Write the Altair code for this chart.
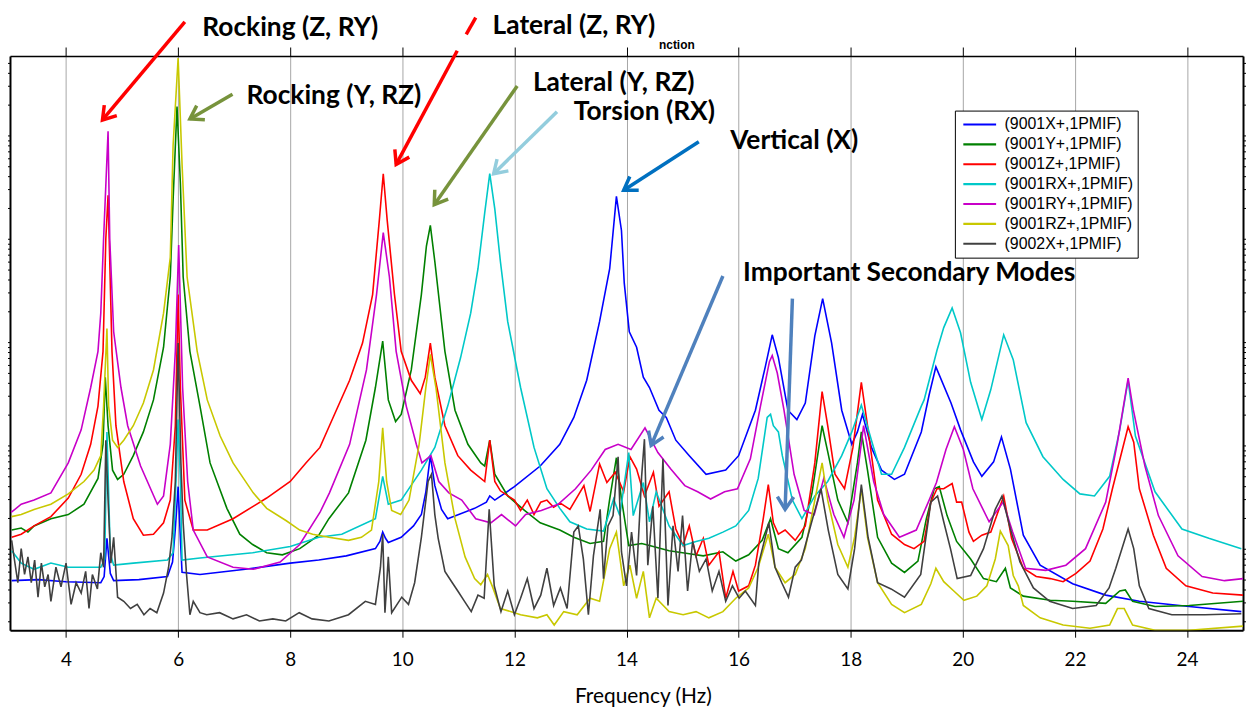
import altair as alt
import pandas as pd

# ---------------- data ----------------
SERIES = ["(9001X+,1PMIF)", "(9001Y+,1PMIF)", "(9001Z+,1PMIF)", "(9001RX+,1PMIF)",
          "(9001RY+,1PMIF)", "(9001RZ+,1PMIF)", "(9002X+,1PMIF)"]
COLORS = ["#0000FF", "#008000", "#FF0000", "#00C8C8", "#C800C8", "#C8C800", "#404040"]

X_TICKS = [4, 6, 8, 10, 12, 14, 16, 18, 20, 22, 24]
LOG_MIN, LOG_MAX = -0.79, 4.77          # vertical extent, log10 units

# level values are log10 of the magnitude (arbitrary units)
FREQ_X = [3.03, 3.5, 4.0, 4.62, 4.68, 4.73, 4.79, 4.85, 5.3, 5.81, 5.9, 5.95, 6.0, 6.04, 6.07, 6.39, 7.2, 8.0,
          8.51, 9.0, 9.52, 9.6, 9.65, 9.7, 9.75, 9.98, 10.2, 10.34, 10.42, 10.5, 10.58, 10.7, 10.81, 11.29, 11.5,
          11.56, 11.65, 12.0, 12.46, 12.81, 13.06, 13.29, 13.52, 13.7, 13.82, 13.91, 13.96, 14.05, 14.18, 14.3,
          14.41, 14.58, 14.71, 14.88, 15.12, 15.42, 15.77, 16.0, 16.3, 16.48, 16.6, 16.71, 16.88, 17.04, 17.19,
          17.36, 17.5, 17.66, 17.84, 18.02, 18.12, 18.21, 18.37, 18.55, 18.78, 18.96, 19.26, 19.4, 19.52, 19.79,
          19.96, 20.19, 20.34, 20.55, 20.69, 20.85, 21.08, 21.38, 21.96, 22.55, 23.15, 24.04, 24.97]
LEVEL_X = [-0.31, -0.3, -0.32, -0.33, -0.27, 0.1, -0.24, -0.31, -0.3, -0.27, -0.13, 0.19, 0.6, 0.1, -0.23, -0.25,
           -0.2, -0.14, -0.11, -0.07, 0.0, 0.07, 0.16, 0.1, 0.06, 0.11, 0.22, 0.33, 0.55, 0.9, 0.61, 0.38, 0.29,
           0.39, 0.45, 0.51, 0.47, 0.6, 0.8, 1.01, 1.27, 1.63, 2.2, 2.71, 3.41, 3.08, 2.57, 2.1, 1.95, 1.66, 1.56,
           1.34, 1.27, 1.05, 0.9, 0.72, 0.76, 0.9, 1.34, 1.77, 2.07, 1.85, 1.34, 1.25, 1.41, 2.06, 2.42, 1.99, 1.34,
           1.01, 1.13, 1.3, 0.98, 0.76, 0.67, 0.72, 1.13, 1.49, 1.76, 1.41, 1.15, 0.84, 0.7, 0.84, 1.08, 0.77, 0.13,
           -0.16, -0.34, -0.45, -0.51, -0.56, -0.61]

FREQ_Y = [3.03, 3.2, 3.32, 3.43, 3.73, 4.04, 4.32, 4.57, 4.66, 4.7, 4.75, 4.83, 4.92, 5.03, 5.2, 5.38, 5.56, 5.74,
          5.86, 5.91, 5.98, 6.04, 6.09, 6.21, 6.39, 6.57, 6.87, 7.1, 7.33, 7.58, 7.86, 8.17, 8.51, 8.69, 9.04, 9.35,
          9.52, 9.65, 9.75, 9.88, 9.98, 10.16, 10.34, 10.43, 10.5, 10.58, 10.76, 10.94, 11.17, 11.4, 11.47, 11.56,
          11.65, 11.88, 12.18, 12.46, 12.81, 13.06, 13.35, 13.59, 13.7, 13.82, 13.91, 14.04, 14.27, 14.41, 14.76,
          15.12, 15.37, 15.72, 15.95, 16.18, 16.42, 16.57, 16.71, 16.88, 17.13, 17.31, 17.49, 17.59, 17.77, 17.95,
          18.12, 18.19, 18.3, 18.48, 18.73, 18.96, 19.2, 19.35, 19.49, 19.58, 19.72, 19.89, 20.14, 20.37, 20.6,
          20.76, 20.85, 21.08, 21.56, 21.96, 22.55, 22.8, 22.9, 23.03, 23.43, 24.04, 25.0]
LEVEL_Y = [0.18, 0.2, 0.16, 0.22, 0.29, 0.33, 0.43, 0.68, 1.01, 1.66, 1.19, 0.76, 0.67, 0.72, 0.9, 1.13, 1.44,
           1.95, 2.63, 3.37, 4.28, 3.54, 2.63, 1.91, 1.38, 0.83, 0.39, 0.14, 0.04, -0.04, -0.06, 0.0, 0.13, 0.29,
           0.54, 1.05, 1.56, 2.01, 1.44, 1.23, 1.3, 1.73, 2.46, 2.93, 3.13, 2.78, 1.91, 1.34, 1.01, 0.83, 0.8, 1.05,
           0.72, 0.51, 0.37, 0.25, 0.18, 0.11, 0.05, 0.07, 0.48, 0.88, 0.48, 0.03, 0.05, 0.03, -0.02, -0.05, -0.07,
           -0.03, -0.12, -0.06, 0.08, 0.29, 0.0, -0.04, 0.11, 0.54, 1.19, 0.94, 0.47, 0.25, 0.83, 1.13, 0.76, 0.11,
           -0.14, -0.23, -0.12, 0.29, 0.58, 0.6, 0.32, 0.07, -0.1, -0.29, -0.32, -0.19, -0.38, -0.46, -0.5, -0.51,
           -0.53, -0.41, -0.4, -0.51, -0.56, -0.55, -0.51]

FREQ_Z = [3.03, 3.2, 3.43, 3.73, 4.04, 4.27, 4.44, 4.57, 4.66, 4.71, 4.75, 4.77, 4.82, 4.89, 5.03, 5.2, 5.38, 5.56,
          5.74, 5.86, 5.95, 6.0, 6.04, 6.12, 6.27, 6.52, 6.98, 7.58, 8.0, 8.28, 8.53, 8.7, 9.06, 9.29, 9.47, 9.59,
          9.66, 9.73, 9.86, 9.98, 10.16, 10.32, 10.41, 10.5, 10.58, 10.76, 10.99, 11.22, 11.47, 11.56, 11.65, 11.75,
          12.0, 12.11, 12.23, 12.35, 12.47, 12.58, 12.7, 12.82, 12.99, 13.24, 13.35, 13.52, 13.65, 13.8, 13.95,
          14.06, 14.18, 14.32, 14.48, 14.58, 14.76, 14.88, 15.01, 15.12, 15.24, 15.37, 15.47, 15.65, 15.77, 15.9,
          16.0, 16.18, 16.3, 16.44, 16.53, 16.62, 16.71, 16.83, 17.01, 17.19, 17.36, 17.49, 17.59, 17.72, 17.89,
          18.04, 18.19, 18.3, 18.48, 18.73, 18.96, 19.13, 19.31, 19.43, 19.54, 19.66, 19.81, 19.89, 19.98, 20.11,
          20.19, 20.34, 20.5, 20.73, 20.87, 21.08, 21.31, 21.56, 21.79, 22.02, 22.27, 22.5, 22.67, 22.95, 23.05,
          23.15, 23.4, 23.63, 23.98, 24.46, 25.0]
LEVEL_Z = [0.11, 0.14, 0.22, 0.31, 0.49, 0.72, 1.01, 1.38, 1.91, 3.0, 3.42, 3.0, 1.91, 1.19, 0.65, 0.29, 0.13,
           0.14, 0.25, 0.47, 1.19, 2.46, 1.56, 0.47, 0.18, 0.18, 0.29, 0.49, 0.65, 0.83, 0.98, 1.19, 1.63, 1.99,
           2.46, 3.18, 3.63, 3.18, 2.46, 1.91, 1.63, 1.5, 1.66, 1.99, 1.66, 1.19, 0.9, 0.76, 0.65, 1.05, 0.65, 0.56,
           0.47, 0.37, 0.47, 0.33, 0.45, 0.47, 0.4, 0.44, 0.38, 0.61, 0.36, 0.82, 0.64, 0.74, 0.55, 0.89, 0.77, 0.51,
           0.74, 0.41, 0.55, 0.19, 0.03, 0.22, -0.07, 0.1, -0.16, -0.03, -0.48, -0.22, -0.41, -0.36, -0.16, 0.29,
           0.62, 0.25, 0.14, 0.18, 0.08, 0.22, 0.83, 1.52, 1.19, 0.72, 0.58, 0.98, 1.61, 1.19, 0.47, 0.14, 0.04, 0.0,
           0.07, 0.45, 0.58, 0.58, 0.63, 0.45, 0.45, 0.16, 0.07, 0.13, 0.16, 0.51, 0.1, -0.19, -0.27, -0.29, -0.32,
           -0.24, -0.12, 0.19, 0.58, 1.18, 1.03, 0.58, 0.13, -0.19, -0.36, -0.43, -0.45]

FREQ_RX = [3.03, 3.2, 3.43, 3.73, 4.04, 4.62, 4.69, 4.73, 4.79, 4.85, 5.2, 5.81, 5.91, 5.97, 6.0, 6.04, 6.07, 6.39,
           7.33, 8.0, 8.51, 8.92, 9.52, 9.65, 9.75, 9.98, 10.34, 10.58, 10.81, 11.04, 11.22, 11.35, 11.47, 11.56,
           11.65, 11.75, 11.88, 12.11, 12.35, 12.58, 12.81, 12.99, 13.29, 13.59, 13.77, 13.88, 14.04, 14.12, 14.3,
           14.41, 14.53, 14.76, 15.01, 15.24, 15.47, 15.72, 15.95, 16.18, 16.35, 16.51, 16.57, 16.62, 16.71, 16.78,
           16.96, 17.13, 17.36, 17.59, 17.84, 18.02, 18.19, 18.37, 18.55, 18.73, 18.96, 19.26, 19.31, 19.54, 19.66,
           19.81, 19.96, 20.14, 20.34, 20.5, 20.73, 20.9, 21.13, 21.43, 21.79, 22.09, 22.35, 22.62, 22.8, 22.95,
           23.08, 23.43, 23.91, 24.39, 24.97]
LEVEL_RX = [-0.02, -0.14, -0.2, -0.14, -0.18, -0.18, -0.1, 1.13, -0.05, -0.16, -0.14, -0.11, -0.04, 0.77, 1.25,
            0.67, -0.11, -0.09, -0.04, 0.02, 0.11, 0.14, 0.29, 0.7, 0.43, 0.47, 0.76, 0.98, 1.38, 1.85, 2.28, 2.71,
            3.25, 3.63, 3.29, 2.78, 2.2, 1.56, 0.98, 0.58, 0.39, 0.26, 0.19, 0.17, 0.48, 0.32, 0.93, 0.32, 0.64, 0.26,
            0.55, 0.22, 0.03, 0.07, 0.1, 0.16, 0.22, 0.37, 0.68, 1.27, 1.3, 1.19, 1.13, 0.9, 0.47, 0.29, 0.51, 0.65,
            0.9, 1.13, 1.39, 1.05, 0.72, 0.72, 0.98, 1.38, 1.44, 1.92, 2.14, 2.33, 2.09, 1.61, 1.25, 1.54, 2.07,
            1.83, 1.22, 0.89, 0.67, 0.53, 0.51, 0.7, 1.15, 1.63, 1.09, 0.55, 0.19, 0.1, 0.0]

FREQ_RY = [3.02, 3.2, 3.43, 3.73, 4.04, 4.27, 4.44, 4.57, 4.62, 4.67, 4.75, 4.78, 4.85, 4.98, 5.1, 5.33, 5.63, 5.74,
           5.86, 5.95, 6.01, 6.08, 6.17, 6.27, 6.52, 6.98, 7.34, 7.82, 8.17, 8.53, 8.7, 9.06, 9.36, 9.54, 9.66, 9.77,
           9.89, 10.07, 10.25, 10.35, 10.51, 10.65, 10.83, 11.06, 11.31, 11.58, 11.77, 12.02, 12.2, 12.48, 12.78,
           13.09, 13.37, 13.62, 13.85, 14.08, 14.33, 14.56, 14.79, 15.04, 15.27, 15.5, 15.75, 15.98, 16.21, 16.39,
           16.55, 16.6, 16.69, 16.81, 16.99, 17.17, 17.35, 17.52, 17.7, 17.88, 18.06, 18.23, 18.41, 18.59, 18.87,
           19.17, 19.4, 19.53, 19.7, 19.85, 20.01, 20.18, 20.47, 20.72, 20.89, 21.12, 21.48, 21.84, 22.19, 22.55,
           22.76, 22.95, 23.04, 23.25, 23.49, 23.84, 24.27, 24.67, 25.0]
LEVEL_RY = [0.35, 0.43, 0.47, 0.54, 0.83, 1.15, 1.56, 1.91, 2.28, 3.0, 4.04, 3.0, 2.1, 1.56, 1.19, 0.8, 0.43, 0.51,
            1.01, 1.91, 2.94, 1.56, 0.65, 0.18, -0.08, -0.18, -0.2, -0.13, 0.04, 0.35, 0.54, 1.01, 1.73, 2.46, 3.06,
            2.63, 1.91, 1.38, 1.01, 0.83, 0.9, 0.65, 0.54, 0.47, 0.29, 0.25, 0.33, 0.22, 0.33, 0.37, 0.43, 0.58,
            0.76, 0.96, 1.01, 0.96, 1.17, 0.93, 0.77, 0.61, 0.55, 0.48, 0.55, 0.58, 0.87, 1.38, 1.81, 1.87, 1.7, 1.34,
            0.72, 0.37, 0.33, 0.68, 0.33, 0.11, 0.47, 1.19, 0.65, 0.33, 0.11, 0.18, 0.47, 0.64, 0.96, 1.18, 0.96,
            0.58, 0.26, 0.45, 0.16, -0.19, -0.21, -0.16, 0.0, 0.45, 1.03, 1.65, 1.35, 0.8, 0.32, -0.07, -0.27, -0.31,
            -0.29]

FREQ_RZ = [3.03, 3.2, 3.43, 3.73, 4.04, 4.32, 4.5, 4.62, 4.67, 4.73, 4.76, 4.83, 4.92, 5.03, 5.2, 5.38, 5.56, 5.74,
           5.86, 5.91, 6.0, 6.07, 6.16, 6.34, 6.52, 6.75, 6.98, 7.34, 7.58, 7.93, 8.17, 8.4, 8.69, 9.04, 9.27, 9.45,
           9.58, 9.65, 9.72, 9.81, 9.97, 10.12, 10.3, 10.42, 10.5, 10.6, 10.76, 10.94, 11.12, 11.29, 11.4, 11.52,
           11.61, 11.75, 12.0, 12.11, 12.41, 12.58, 12.71, 12.88, 13.12, 13.35, 13.52, 13.7, 13.82, 13.95, 14.06,
           14.18, 14.3, 14.41, 14.53, 14.76, 15.01, 15.24, 15.47, 15.72, 15.95, 16.18, 16.35, 16.53, 16.65, 16.83,
           17.01, 17.19, 17.36, 17.49, 17.59, 17.77, 17.95, 18.07, 18.19, 18.3, 18.48, 18.73, 18.96, 19.26, 19.43,
           19.52, 19.66, 19.84, 20.02, 20.25, 20.43, 20.58, 20.67, 20.81, 20.9, 20.99, 21.08, 21.38, 21.79, 22.27,
           22.62, 22.76, 22.88, 23.03, 23.43, 24.04, 25.0]
LEVEL_RZ = [0.31, 0.33, 0.38, 0.43, 0.53, 0.65, 0.76, 0.9, 1.38, 2.13, 1.38, 1.05, 0.98, 1.05, 1.19, 1.41, 1.73,
            2.28, 2.82, 3.9, 4.75, 3.72, 2.63, 1.91, 1.44, 1.09, 0.83, 0.54, 0.39, 0.27, 0.18, 0.14, 0.11, 0.08, 0.11,
            0.18, 0.65, 1.17, 0.65, 0.37, 0.33, 0.47, 1.01, 1.56, 1.88, 1.56, 0.83, 0.29, -0.08, -0.29, -0.35, -0.25,
            -0.37, -0.58, -0.62, -0.64, -0.67, -0.64, -0.74, -0.61, -0.64, -0.48, -0.51, 0.0, 0.16, -0.36, -0.16,
            -0.48, -0.22, -0.67, -0.48, -0.61, -0.64, -0.61, -0.67, -0.61, -0.48, -0.38, -0.18, 0.14, -0.18, -0.33,
            -0.25, 0.0, 0.47, 0.83, 0.47, 0.04, -0.18, 0.11, 0.58, 0.11, -0.33, -0.54, -0.62, -0.54, -0.34, -0.19,
            -0.32, -0.41, -0.5, -0.46, -0.36, -0.1, 0.17, 0.03, -0.26, -0.36, -0.55, -0.67, -0.74, -0.77, -0.74,
            -0.58, -0.58, -0.74, -0.79, -0.79, -0.75]

FREQ_X2 = [3.03, 3.08, 3.14, 3.2, 3.26, 3.32, 3.38, 3.44, 3.5, 3.56, 3.62, 3.68, 3.73, 3.82, 3.91, 4.0, 4.09, 4.18,
           4.27, 4.35, 4.41, 4.47, 4.56, 4.62, 4.67, 4.71, 4.75, 4.8, 4.85, 4.92, 5.03, 5.15, 5.27, 5.39, 5.5, 5.62,
           5.74, 5.83, 5.89, 5.95, 6.0, 6.05, 6.09, 6.15, 6.21, 6.27, 6.39, 6.51, 6.74, 6.98, 7.22, 7.45, 7.69, 7.92,
           8.16, 8.39, 8.69, 9.04, 9.34, 9.52, 9.61, 9.65, 9.69, 9.75, 9.81, 9.99, 10.11, 10.22, 10.34, 10.46, 10.52,
           10.58, 10.64, 10.76, 10.88, 10.99, 11.11, 11.23, 11.35, 11.46, 11.55, 11.64, 11.76, 11.88, 12.0, 12.11,
           12.23, 12.35, 12.47, 12.58, 12.7, 12.82, 12.94, 13.06, 13.14, 13.23, 13.32, 13.41, 13.53, 13.59, 13.67,
           13.76, 13.85, 13.91, 14.0, 14.09, 14.18, 14.27, 14.32, 14.38, 14.47, 14.56, 14.65, 14.74, 14.83, 14.92,
           15.0, 15.09, 15.18, 15.3, 15.42, 15.53, 15.65, 15.77, 15.89, 16.01, 16.12, 16.3, 16.36, 16.54, 16.65,
           16.77, 16.89, 17.01, 17.12, 17.3, 17.47, 17.6, 17.77, 17.95, 18.07, 18.19, 18.31, 18.48, 18.72, 18.96,
           19.25, 19.43, 19.55, 19.66, 19.78, 19.9, 20.14, 20.37, 20.58, 20.7, 20.85, 21.02, 21.26, 21.55, 21.96,
           22.38, 22.61, 22.73, 22.95, 23.05, 23.15, 23.32, 23.73, 24.32, 24.97]
LEVEL_X2 = [0.08, -0.11, -0.33, 0.0, -0.25, -0.08, -0.33, -0.11, -0.47, -0.14, -0.37, -0.25, -0.51, -0.18, -0.37,
            -0.14, -0.54, -0.33, -0.43, -0.22, -0.58, -0.25, -0.39, -0.04, -0.18, 1.05, 0.47, -0.14, 0.11, -0.47,
            -0.51, -0.58, -0.54, -0.64, -0.58, -0.62, -0.43, -0.18, 0.11, 0.65, 1.99, 0.83, 0.25, -0.25, -0.64,
            -0.51, -0.62, -0.64, -0.62, -0.68, -0.64, -0.7, -0.68, -0.7, -0.62, -0.68, -0.7, -0.64, -0.51, -0.54,
            -0.18, 0.14, -0.62, -0.08, -0.62, -0.47, -0.54, -0.33, 0.11, 0.65, 0.72, 0.33, 0.1, -0.22, -0.32, -0.41,
            -0.51, -0.61, -0.45, -0.48, 0.38, -0.36, -0.61, -0.41, -0.64, -0.48, -0.29, -0.58, -0.45, -0.19, -0.55,
            -0.38, -0.58, 0.16, 0.22, -0.1, -0.64, -0.07, 0.38, -0.29, 0.22, 0.32, 0.89, -0.03, -0.36, 0.16, -0.26,
            0.7, 1.06, -0.16, 0.41, -0.48, 0.87, -0.55, 0.22, -0.22, 0.32, -0.41, 0.07, -0.22, -0.1, -0.41, -0.22,
            -0.51, -0.36, -0.48, -0.41, -0.55, -0.14, 0.25, -0.18, -0.33, -0.47, -0.18, -0.11, 0.25, 0.58, 0.18,
            -0.25, -0.39, 0.0, 0.62, 0.11, -0.33, -0.39, -0.47, -0.25, 0.45, 0.51, 0.26, 0.0, -0.29, -0.26, 0.0, 0.38,
            0.51, 0.19, -0.13, -0.38, -0.51, -0.58, -0.55, -0.38, -0.19, 0.19, 0.0, -0.36, -0.58, -0.64, -0.64, -0.63]

FREQS = [FREQ_X, FREQ_Y, FREQ_Z, FREQ_RX, FREQ_RY, FREQ_RZ, FREQ_X2]
LEVELS = [LEVEL_X, LEVEL_Y, LEVEL_Z, LEVEL_RX, LEVEL_RY, LEVEL_RZ, LEVEL_X2]

# annotations (data coordinates: frequency, log10 level)
NOTE_TEXT = ["Rocking (Z, RY)", "Lateral (Z, RY)", "Rocking (Y, RZ)", "Lateral (Y, RZ)",
             "Torsion (RX)", "Vertical (X)", "Important Secondary Modes"]
NOTE_F = [6.43, 11.61, 7.22, 12.33, 13.06, 15.85, 16.08]
NOTE_LG = [5.04, 5.055, 4.38, 4.51, 4.23, 3.95, 2.67]

ARROW_F1 = [6.12, 11.31, 10.98, 6.97, 12.05, 12.76, 15.29, 15.72, 16.96]
ARROW_LG1 = [5.10, 5.14, 4.82, 4.40, 4.48, 4.23, 3.94, 2.64, 2.42]
ARROW_F2 = [4.65, 11.14, 9.89, 6.21, 10.57, 11.63, 13.95, 14.44, 16.83]
ARROW_LG2 = [4.15, 4.98, 3.72, 4.16, 3.33, 3.63, 3.47, 1.00, 0.38]
ARROW_COL = ["#FF0000", "#FF0000", "#FF0000", "#77933C", "#77933C", "#93CDDD", "#0070C0", "#4F81BD", "#4F81BD"]
HEAD_IDX = [0, 2, 3, 4, 5, 6, 7, 8]
HEAD_ANGLE = [130, 118, 150, 125, 136, 147, 113, 92]

# ---------------- tables ----------------
rows = []
for name, fr, lv in zip(SERIES, FREQS, LEVELS):
    for f, v in zip(fr, lv):
        rows.append({"series": name, "f": f, "lg": v})
df = pd.DataFrame(rows)

notes = pd.DataFrame({"t": NOTE_TEXT, "f": NOTE_F, "lg": NOTE_LG})
arrows = pd.DataFrame({"f1": ARROW_F1, "lg1": ARROW_LG1, "f2": ARROW_F2, "lg2": ARROW_LG2, "col": ARROW_COL})
heads = pd.DataFrame({"f": [ARROW_F2[i] for i in HEAD_IDX], "lg": [ARROW_LG2[i] for i in HEAD_IDX],
                      "ang": HEAD_ANGLE, "col": [ARROW_COL[i] for i in HEAD_IDX]})
small = pd.DataFrame({"t": ["nction"], "f": [14.58], "lg": [4.88]})

Y_DOMAIN = [10 ** LOG_MIN, 10 ** LOG_MAX]
Y_TICKS = [m * 10.0 ** k for k in range(-1, 5) for m in range(1, 10)
           if Y_DOMAIN[0] <= m * 10.0 ** k <= Y_DOMAIN[1]]

xs = alt.Scale(domain=[3, 25], nice=False, zero=False)
ys = alt.Scale(type="log", domain=Y_DOMAIN, nice=False)

bottom_axis = alt.Axis(values=X_TICKS, grid=True, gridColor="#A6A6A6", gridWidth=1,
                       domainColor="black", domainWidth=2, tickColor="black", tickSize=7, tickWidth=1,
                       labelFont="Lato", labelFontSize=19, labelColor="black", labelPadding=13,
                       title="Frequency (Hz)", titleFont="Lato", titleFontSize=21, titleFontWeight="normal",
                       titleColor="black", titlePadding=17, titleX=637)
left_axis = alt.Axis(values=Y_TICKS, labels=False, grid=False, domainColor="black", domainWidth=2,
                     tickColor="black", tickSize=4, tickWidth=1, title=None)
top_axis = alt.Axis(orient="top", values=X_TICKS, labels=False, grid=False, domainColor="black",
                    domainWidth=1.5, tickColor="black", tickSize=9, tickWidth=1, title=None)
right_axis = alt.Axis(orient="right", values=Y_TICKS, labels=False, grid=False, domainColor="black",
                      domainWidth=2, tickColor="black", tickSize=4, tickWidth=1, title=None)

legend = alt.Legend(title=None, orient="none", legendX=951, legendY=55, symbolType="stroke",
                    symbolSize=1089, symbolStrokeWidth=2.2, symbolOffset=3, clipHeight=20, rowPadding=0,
                    labelFont="Liberation Sans", labelFontSize=16, labelColor="black", labelOffset=7,
                    labelLimit=300, padding=4, strokeColor="black", fillColor="white")

lines = alt.Chart(df).transform_calculate(amp="pow(10, datum.lg)").mark_line(
    strokeWidth=1.6, clip=True).encode(
    x=alt.X("f:Q", scale=xs, axis=bottom_axis),
    y=alt.Y("amp:Q", scale=ys, axis=left_axis),
    color=alt.Color("series:N", scale=alt.Scale(domain=SERIES, range=COLORS), legend=legend,
                    sort=SERIES),
)

arrow_lines = alt.Chart(arrows).transform_calculate(
    a1="pow(10, datum.lg1)", a2="pow(10, datum.lg2)").mark_rule(strokeWidth=3.5, strokeCap="butt").encode(
    x=alt.X("f1:Q", scale=xs, axis=top_axis),
    y=alt.Y("a1:Q", scale=ys, axis=right_axis),
    x2="f2:Q", y2="a2:Q",
    color=alt.Color("col:N", scale=None),
)

arrow_heads = alt.Chart(heads).transform_calculate(a="pow(10, datum.lg)").mark_point(
    shape="M-1,-0.65L0,0L-1,0.65", filled=False, size=640, strokeWidth=3.5, opacity=1,
    strokeJoin="miter").encode(
    x=alt.X("f:Q", scale=xs, axis=None),
    y=alt.Y("a:Q", scale=ys, axis=None),
    angle=alt.Angle("ang:Q", scale=None),
    color=alt.Color("col:N", scale=None),
)

note_text = alt.Chart(notes).transform_calculate(a="pow(10, datum.lg)").mark_text(
    align="left", baseline="middle", font="Lato", fontWeight="bold", fontSize=26.5, color="black").encode(
    x=alt.X("f:Q", scale=xs, axis=None),
    y=alt.Y("a:Q", scale=ys, axis=None),
    text="t:N",
)

small_text = alt.Chart(small).transform_calculate(a="pow(10, datum.lg)").mark_text(
    align="left", baseline="middle", font="Liberation Sans", fontWeight="bold", fontSize=12,
    color="black").encode(
    x=alt.X("f:Q", scale=xs, axis=None),
    y=alt.Y("a:Q", scale=ys, axis=None),
    text="t:N",
)

chart = alt.layer(lines, arrow_lines, arrow_heads, note_text, small_text).resolve_axis(
    x="independent", y="independent").properties(
    width=1241, height=578,
    padding={"left": 2, "top": 46, "right": 3, "bottom": 75},
    autosize=alt.AutoSizeParams(type="none"),
).configure_view(strokeWidth=0)

chart.save("out.html", embed_options={"renderer": "svg", "actions": False})
